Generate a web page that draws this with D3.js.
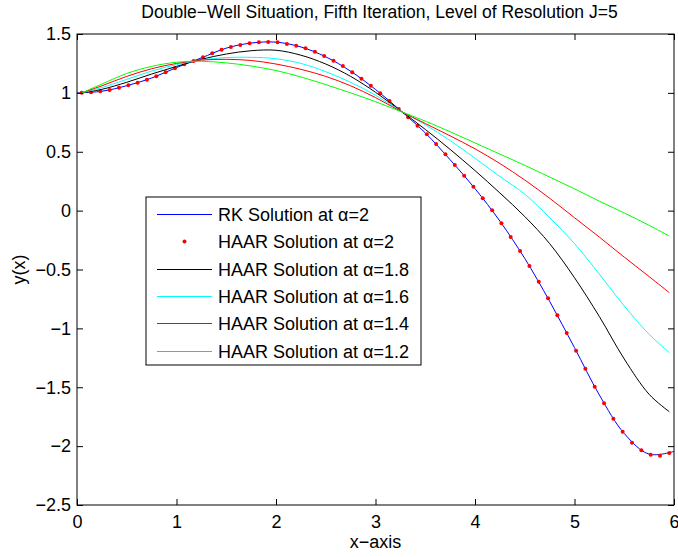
<!DOCTYPE html>
<html>
<head>
<meta charset="utf-8">
<script src="https://cdn.jsdelivr.net/npm/d3@7"></script>
<style>
  body { margin: 0; background: #fff; }
  svg text { font-family: "Liberation Sans", Arial, Helvetica, sans-serif; }
</style>
</head>
<body>
<div id="chart"></div>
<script>
// RK reference solution (alpha = 2)
const rkX = [0, 0.25, 0.5, 0.75, 1.0, 1.25, 1.5, 1.75, 2.0, 2.25, 2.5, 2.75, 3.0,
             3.25, 3.5, 3.75, 4.0, 4.25, 4.5, 4.75, 5.0, 5.25, 5.5, 5.75, 6.0];
const rkY = [1.0, 1.014, 1.061, 1.126, 1.215, 1.297, 1.38, 1.423, 1.431, 1.39, 1.306, 1.184, 1.029,
             0.851, 0.66, 0.432, 0.187, -0.089, -0.406, -0.77, -1.164, -1.566, -1.893, -2.068, -2.045];

// HAAR collocation points, J=5 (64 points)
const haarX = [0.047, 0.141, 0.234, 0.328, 0.422, 0.516, 0.609, 0.703, 0.797, 0.891, 0.984, 1.078,
               1.172, 1.266, 1.359, 1.453, 1.547, 1.641, 1.734, 1.828, 1.922, 2.016, 2.109, 2.203,
               2.297, 2.391, 2.484, 2.578, 2.672, 2.766, 2.859, 2.953, 3.047, 3.141, 3.234, 3.328,
               3.422, 3.516, 3.609, 3.703, 3.797, 3.891, 3.984, 4.078, 4.172, 4.266, 4.359, 4.453,
               4.547, 4.641, 4.734, 4.828, 4.922, 5.016, 5.109, 5.203, 5.297, 5.391, 5.484, 5.578,
               5.672, 5.766, 5.859, 5.953];
const haar20 = [1.001, 1.005, 1.013, 1.024, 1.044, 1.064, 1.086, 1.112, 1.141, 1.175, 1.209, 1.243,
                1.271, 1.302, 1.336, 1.367, 1.39, 1.407, 1.421, 1.43, 1.432, 1.43, 1.415, 1.401,
                1.378, 1.35, 1.313, 1.273, 1.228, 1.175, 1.12, 1.061, 0.996, 0.931, 0.863, 0.792,
                0.721, 0.648, 0.566, 0.478, 0.388, 0.297, 0.203, 0.105, 0.003, -0.108, -0.224, -0.343,
                -0.470, -0.604, -0.745, -0.889, -1.039, -1.19, -1.342, -1.495, -1.636, -1.767, -1.878, -1.971,
                -2.036, -2.073, -2.081, -2.058];

// HAAR solutions for smaller alpha, read at these x positions
const fracX = [0.047, 0.25, 0.5, 0.75, 1.0, 1.25, 1.5, 1.75, 2.0, 2.25, 2.5, 2.75, 3.0,
               3.25, 3.5, 3.75, 4.0, 4.25, 4.5, 4.75, 5.0, 5.25, 5.5, 5.75, 5.953];
const haar18 = [1.0, 1.03, 1.09, 1.16, 1.225, 1.285, 1.33, 1.358, 1.362, 1.32, 1.245, 1.14, 1.005,
                0.85, 0.69, 0.52, 0.34, 0.15, -0.05, -0.28, -0.57, -0.9, -1.26, -1.56, -1.708];
const haar16 = [1.0, 1.045, 1.115, 1.185, 1.24, 1.28, 1.30, 1.302, 1.29, 1.25, 1.18, 1.09, 0.98,
                0.848, 0.73, 0.595, 0.445, 0.29, 0.14, -0.06, -0.28, -0.54, -0.81, -1.05, -1.206];
const haar14 = [1.0, 1.06, 1.14, 1.205, 1.25, 1.278, 1.285, 1.275, 1.245, 1.20, 1.14, 1.06, 0.96,
                0.845, 0.74, 0.635, 0.525, 0.40, 0.26, 0.105, -0.06, -0.225, -0.395, -0.56, -0.697];
const haar12 = [1.0, 1.075, 1.165, 1.225, 1.26, 1.268, 1.255, 1.228, 1.19, 1.135, 1.07, 1.0, 0.925,
                0.843, 0.76, 0.67, 0.575, 0.48, 0.385, 0.285, 0.185, 0.08, -0.02, -0.125, -0.216];

const xTicks = [0, 1, 2, 3, 4, 5, 6];
const yTicks = [-2.5, -2, -1.5, -1, -0.5, 0, 0.5, 1, 1.5];
const legendLabels = ["RK Solution at \u03b1=2", "HAAR Solution at \u03b1=2", "HAAR Solution at \u03b1=1.8",
                      "HAAR Solution at \u03b1=1.6", "HAAR Solution at \u03b1=1.4", "HAAR Solution at \u03b1=1.2"];
const legendColors = ["#0000ff", "#ff0000", "#000000", "#00ffff", "#ff0000", "#00ff00"];

const W = 678, H = 557;
const mLeft = 77, mRight = 674, mTop = 34, mBottom = 505;

const svg = d3.select("#chart").append("svg")
    .attr("width", W)
    .attr("height", H);

const x = d3.scaleLinear().domain([0, 6]).range([mLeft, mRight]);
const y = d3.scaleLinear().domain([-2.5, 1.5]).range([mBottom, mTop]);

const fmt = v => String(v).replace("-", "\u2212");

// clip for the curves
svg.append("clipPath").attr("id", "plotclip")
    .append("rect")
    .attr("x", mLeft).attr("y", mTop)
    .attr("width", mRight - mLeft).attr("height", mBottom - mTop);

const plot = svg.append("g").attr("clip-path", "url(#plotclip)");

const curveLine = d3.line()
    .x(d => x(d[0]))
    .y(d => y(d[1]))
    .curve(d3.curveCatmullRom);

plot.append("path")
    .datum(rkX.map((v, i) => [v, rkY[i]]))
    .attr("d", curveLine)
    .attr("fill", "none")
    .attr("stroke", "#0000ff")
    .attr("stroke-width", 1);

plot.selectAll("circle.haar")
    .data(haarX.map((v, i) => [v, haar20[i]]))
    .enter().append("circle")
    .attr("class", "haar")
    .attr("cx", d => x(d[0]))
    .attr("cy", d => y(d[1]))
    .attr("r", 2)
    .attr("fill", "#ff0000");

const fracSeries = [haar18, haar16, haar14, haar12];
fracSeries.forEach((ys, k) => {
    plot.append("path")
        .datum(fracX.map((v, i) => [v, ys[i]]))
        .attr("d", curveLine)
        .attr("fill", "none")
        .attr("stroke", legendColors[k + 2])
        .attr("stroke-width", 1);
});

// axes, ticks pointing inward like matlab
svg.append("g")
    .attr("class", "ax")
    .attr("transform", `translate(0,${mBottom})`)
    .call(d3.axisBottom(x).tickValues(xTicks).tickFormat(fmt).tickSizeInner(-6).tickSizeOuter(0).tickPadding(10));
svg.append("g")
    .attr("class", "ax")
    .attr("transform", `translate(0,${mTop})`)
    .call(d3.axisTop(x).tickValues(xTicks).tickFormat("").tickSizeInner(-6).tickSizeOuter(0));
svg.append("g")
    .attr("class", "ax")
    .attr("transform", `translate(${mLeft},0)`)
    .call(d3.axisLeft(y).tickValues(yTicks).tickFormat(fmt).tickSizeInner(-6).tickSizeOuter(0).tickPadding(6));
svg.append("g")
    .attr("class", "ax")
    .attr("transform", `translate(${mRight},0)`)
    .call(d3.axisRight(y).tickValues(yTicks).tickFormat("").tickSizeInner(-6).tickSizeOuter(0));

svg.selectAll(".ax .domain").remove();
svg.selectAll(".ax .tick line").attr("stroke", "#000");
svg.selectAll(".ax .tick text")
    .attr("font-size", 18)
    .attr("fill", "#000");

svg.append("rect")
    .attr("x", mLeft).attr("y", mTop)
    .attr("width", mRight - mLeft).attr("height", mBottom - mTop)
    .attr("fill", "none")
    .attr("stroke", "#000")
    .attr("stroke-width", 1);

// titles
svg.append("text")
    .attr("x", (mLeft + mRight) / 2 + 4)
    .attr("y", 18)
    .attr("text-anchor", "middle")
    .attr("font-size", 17.5)
    .text("Double\u2212Well Situation, Fifth Iteration, Level of Resolution J=5");

svg.append("text")
    .attr("x", (mLeft + mRight) / 2)
    .attr("y", 548)
    .attr("text-anchor", "middle")
    .attr("font-size", 18)
    .text("x\u2212axis");

svg.append("text")
    .attr("transform", `translate(25,${(mTop + mBottom) / 2}) rotate(-90)`)
    .attr("text-anchor", "middle")
    .attr("font-size", 18)
    .text("y(x)");

// legend
const lg = svg.append("g").attr("transform", "translate(146,197)");
const rowH = 27.3;
lg.append("rect")
    .attr("width", 275)
    .attr("height", 168)
    .attr("fill", "#fff")
    .attr("stroke", "#000")
    .attr("stroke-width", 1);

legendLabels.forEach((label, i) => {
    const g = lg.append("g")
        .attr("transform", `translate(0,${Math.round(17 + i * rowH) + 0.5})`);
    if (i === 1) {
        g.append("circle").attr("cx", 38.5).attr("cy", 0).attr("r", 2).attr("fill", legendColors[i]);
    } else {
        g.append("path")
            .attr("d", "M11,0H66")
            .style("stroke", legendColors[i])
            .style("stroke-width", 1)
            .style("fill", "none");
    }
    g.append("text")
        .attr("x", 72)
        .attr("y", 0)
        .attr("dy", "0.35em")
        .attr("font-size", 18)
        .text(label);
});
</script>
</body>
</html>
